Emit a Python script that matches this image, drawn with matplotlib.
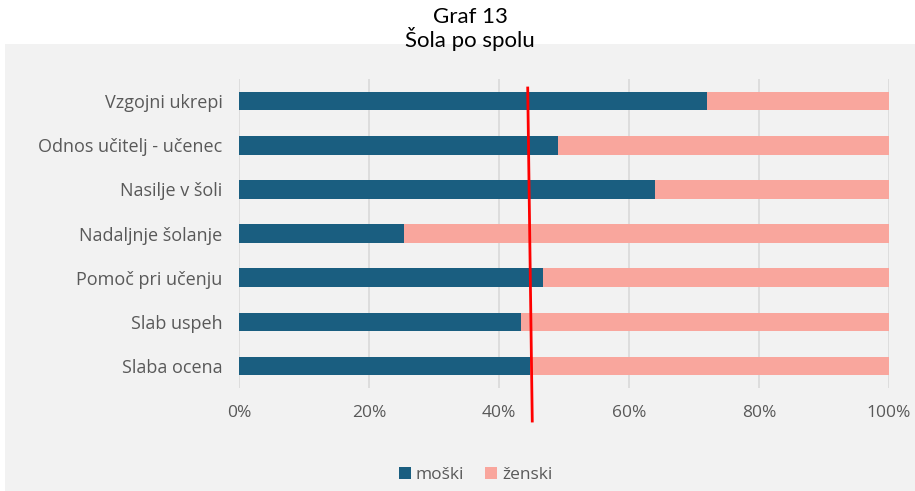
import matplotlib.pyplot as plt
import matplotlib.transforms as mtransforms
from matplotlib.patches import Rectangle

plt.rcParams['font.family'] = ['Open Sans', 'DejaVu Sans']

# Data (share of boys, rest is girls)
categories = ['Vzgojni ukrepi', 'Odnos učitelj - učenec', 'Nasilje v šoli',
              'Nadaljnje šolanje', 'Pomoč pri učenju', 'Slab uspeh', 'Slaba ocena']
moski = [0.72, 0.49, 0.64, 0.253, 0.468, 0.434, 0.447]
zenski = [1 - v for v in moski]
tick_values = [0, 0.2, 0.4, 0.6, 0.8, 1.0]
tick_labels = ['0%', '20%', '40%', '60%', '80%', '100%']
# red reference line (x at top, x at bottom)
ref_line_x = [0.444, 0.451]

blue = '#1A5E80'
pink = '#F9A69D'
bg = '#F2F2F2'
text_col = '#595959'

fig = plt.figure(figsize=(9.15, 4.91), dpi=100)
fig.patches.append(Rectangle((0.0055, 0), 0.9945, 0.91, transform=fig.transFigure,
                             facecolor=bg, edgecolor='none', zorder=-5))

ax = fig.add_axes([0.2615, 0.2098, 0.71, 0.6292])
ax.set_facecolor('none')

ypos = list(range(len(categories)))[::-1]
ax.barh(ypos, moski, height=0.42, color=blue, label='moški', zorder=3)
ax.barh(ypos, zenski, left=moski, height=0.42, color=pink, label='ženski', zorder=3)

ax.set_xlim(0, 1)
ax.set_ylim(-0.5, len(categories) - 0.5)
ax.set_xticks(tick_values)
ax.set_xticklabels(tick_labels)
ax.set_yticks(ypos)
ax.set_yticklabels(categories)
ax.tick_params(axis='both', length=0, labelcolor=text_col, labelsize=12.5)
ax.tick_params(axis='y', pad=12, labelsize=13)
ax.tick_params(axis='x', pad=12)
ax.grid(axis='x', color='#D9D9D9', linewidth=1.2, zorder=1)
for s in ax.spines.values():
    s.set_visible(False)

# red line drawn over the chart
trans = mtransforms.blended_transform_factory(ax.transData, ax.transAxes)
ax.plot(ref_line_x, [0.971, -0.107], color='#FF0000', linewidth=2, transform=trans,
        clip_on=False, zorder=5)

fig.text(0.514, 0.966, 'Graf 13', ha='center', va='center', fontsize=16,
         color='black', family=['Lato', 'DejaVu Sans'])
fig.text(0.514, 0.92, 'Šola po spolu', ha='center', va='center', fontsize=16,
         color='black', family=['Lato', 'DejaVu Sans'])

fig.legend(loc='center', bbox_to_anchor=(0.52, 0.033), ncol=2, frameon=False,
           fontsize=12.5, labelcolor=text_col, handlelength=0.7, handleheight=0.7,
           handletextpad=0.3, columnspacing=1.2)

fig.savefig('out.png', dpi=100)
